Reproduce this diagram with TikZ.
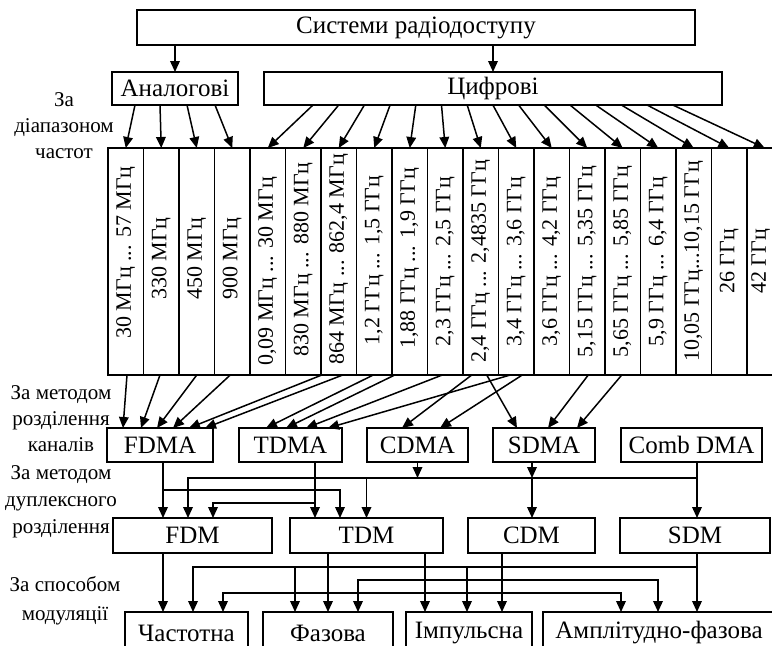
\documentclass[tikz,border=0pt]{standalone}
\usepackage{fontspec}
\setmainfont{Liberation Serif}
\usetikzlibrary{arrows.meta,calc}
\def\u{*0.5pt}
\newcommand\bandcol[4]{%
  \node[col] (b#1) at ({108+35.5*(#1-0.5)},261.5) {};
  \node[coltext] (t#1) at ($(b#1.center)+(#4,#3)$) {#2};}
\begin{document}
\begin{tikzpicture}[x=0.5pt,y=-0.5pt,
  every node/.style={inner sep=0pt, outer sep=0pt},
  box/.style={draw, line width=0.75pt, font=\fontsize{12.5}{14}\selectfont},
  col/.style={draw, line width=0.75pt, minimum width=35.5\u, minimum height=227\u},
  coltext/.style={rotate=90, font=\fontsize{11}{13}\selectfont},
  lbl/.style={align=center, font=\fontsize{10.5}{13}\selectfont},
  con/.style={line width=0.75pt},
  arr/.style={con, -{Triangle[length=5.5pt,width=4.8pt]}},
]
\fill[white] (0,0) rectangle (772,645);
\useasboundingbox (0,0) rectangle (772,645);

% top levels
\node[box, minimum width=558\u, minimum height=35\u] (top) at (416,27.5) {Системи радіодоступу};
\node[box, minimum width=126\u, minimum height=33\u] (an) at (175,88.5) {Аналогові};
\node[box, minimum width=458\u, minimum height=33\u] (dig) at (493,88.5) {Цифрові};
\draw[arr] (top.south -| an) -- (an.north);
\draw[arr] (top.south -| dig) -- (dig.north);

% band columns
\bandcol{1}{30 МГц ... 57 МГц}{-9}{0}
\bandcol{2}{330 МГц}{-3}{0}
\bandcol{3}{450 МГц}{-3}{0}
\bandcol{4}{900 МГц}{-3}{0}
\bandcol{5}{0,09 МГц ... 30 МГц}{10}{0}
\bandcol{6}{830 МГц ... 880 МГц}{-2}{0}
\bandcol{7}{864 МГц ... 862,4 МГц}{-2}{0}
\bandcol{8}{1,2 ГГц ... 1,5 ГГц}{-1}{0}
\bandcol{9}{1,88 ГГц ... 1,9 ГГц}{-3}{0}
\bandcol{10}{2,3 ГГц ... 2,5 ГГц}{0}{0}
\bandcol{11}{2,4 ГГц ... 2,4835 ГГц}{0}{0}
\bandcol{12}{3,4 ГГц ... 3,6 ГГц}{0}{0}
\bandcol{13}{3,6 ГГц ... 4,2 ГГц}{0}{0}
\bandcol{14}{5,15 ГГц ... 5,35 ГГц}{0}{0}
\bandcol{15}{5,65 ГГц ... 5,85 ГГц}{0}{0}
\bandcol{16}{5,9 ГГц ... 6,4 ГГц}{0}{0}
\bandcol{17}{10,05 ГГц...10,15 ГГц}{0}{0}
\bandcol{18}{26 ГГц}{0}{0}
\bandcol{19}{42 ГГц}{0}{-4}

\foreach \dx/\k in {23/1,48/2,75/3,103/4}
  \draw[arr] ($(an.south west)+(\dx,0)$) -- (b\k.north);
\foreach \k [evaluate=\k as \j using int(\k+4)] in {1,...,15}
  \draw[arr] ($(dig.south west)+({49+25.7*(\k-1)},0)$) -- (b\j.north);

% left labels
\node[lbl] (l1) at (64,126) {За\\діапазоном\\частот};
\node[lbl] (l2) at (61,419) {За методом\\розділення\\каналів};
\node[lbl, font=\fontsize{10.5}{13.5}\selectfont] (l3) at (61,502) {За методом\\дуплексного\\розділення};
\node[lbl, font=\fontsize{10.5}{14.5}\selectfont] (l4) at (65,601) {За способом\\модуляції};

% channel division
\node[box, minimum width=106\u, minimum height=34\u] (fdma) at (160,445) {FDMA};
\node[box, minimum width=103\u, minimum height=34\u] (tdma) at (290.5,445) {TDMA};
\node[box, minimum width=101\u, minimum height=34\u] (cdma) at (417.5,445) {CDMA};
\node[box, minimum width=102\u, minimum height=34\u] (sdma) at (544,445) {SDMA};
\node[box, minimum width=141\u, minimum height=34\u] (comb) at (691.5,445) {Comb DMA};

\foreach \k/\a/\n/\b in {1/1.25/fdma/16, 2/-1.25/fdma/34, 3/0/fdma/50, 4/-2/fdma/66,
    7/-17/fdma/82, 7/4/fdma/98, 8/-1/tdma/27, 9/-15/tdma/47, 10/-3/tdma/67,
    12/-6/tdma/89, 11/-9/cdma/35, 12/6/cdma/73, 11/6/sdma/24, 14/1/sdma/55, 15/-1/sdma/84}
  \draw[arr] ($(b\k.south)+(\a,0)$) -- ($(\n.north west)+(\b,0)$);

% duplex
\node[box, minimum width=159\u, minimum height=35\u] (fdm) at (192.5,535.5) {FDM};
\node[box, minimum width=153\u, minimum height=35\u] (tdm) at (366.5,535.5) {TDM};
\node[box, minimum width=127\u, minimum height=35\u] (cdm) at (531.5,535.5) {CDM};
\node[box, minimum width=150\u, minimum height=35\u] (sdm) at (695,535.5) {SDM};

\coordinate (f1) at ($(fdma.south west)+(56,0)$);
\draw[arr] (f1) -- (f1 |- fdm.north);
\draw[arr] (f1) ++(0,28) -| ($(tdm.north west)+(50,0)$);
\coordinate (t1) at ($(tdma.south west)+(76,0)$);
\draw[arr] (t1) -- (t1 |- tdm.north);
\draw[arr] (t1) ++(0,41) -| ($(fdm.north west)+(100,0)$);
\coordinate (c1) at ($(comb.south)+(5.5,0)$);
\coordinate (bus) at ($(c1)+(0,16)$);
\coordinate (s1) at ($(sdma.south west)+(39,0)$);
\draw[arr] (c1) -- (c1 |- sdm.north);
\draw[arr] (bus) -| ($(fdm.north west)+(75,0)$);
\draw[arr] (cdma.south) -- (cdma.south |- bus);
\draw[arr] (s1) -- (s1 |- bus);
\draw[arr] (s1 |- bus) -- (s1 |- cdm.north);
\draw[arr] (bus -| tdm.north) -- (tdm.north);

% modulation
\node[box, minimum width=123\u, minimum height=42\u] (ch) at (186.5,633) {Частотна};
\node[box, minimum width=130\u, minimum height=42\u] (ph) at (328,633) {Фазова};
\node[box, minimum width=126\u, minimum height=42\u] (im) at (469,633) {Імпульсна};
\node[box, minimum width=232\u, minimum height=42\u] (ap) at (659,633) {Амплітудно-фазова};

\coordinate (q1) at ($(fdm.south west)+(50,0)$);
\coordinate (q2) at ($(tdm.south west)+(38,0)$);
\coordinate (q3) at ($(tdm.south west)+(135,0)$);
\coordinate (q4) at ($(cdm.south west)+(34,0)$);
\coordinate (m) at ($(sdm.south)+(2,0)$);
\draw[arr] (q1) -- (q1 |- ch.north);
\draw[arr] (q2) -- (q2 |- ph.north);
\draw[arr] (q3) -- (q3 |- im.north);
\draw[arr] (q4) -- (q4 |- im.north);
\draw[arr] (m) -- (m |- ap.north);

\coordinate (e1) at ($(ph.north west)+(95,0)$);
\coordinate (e2) at ($(ap.north west)+(115,0)$);
\coordinate (e3) at ($(ch.north west)+(98,0)$);
\coordinate (e4) at ($(ap.north west)+(78,0)$);
\coordinate (e5) at ($(ch.north west)+(68,0)$);
\coordinate (d1) at ($(ph.north west)+(32,0)$);
\coordinate (d2) at ($(im.north west)+(61,0)$);

\coordinate (m1) at ($(m)+(0,14)$);
\coordinate (k1) at ($(q4)+(0,27)$);
\coordinate (k2) at ($(q3)+(0,40)$);
\draw[arr] (m1) -| (e5);
\draw[arr] (m1 -| d1) -- (d1);
\draw[arr] (m1 -| d2) -- (d2);
\draw[arr] (k1) -| (e1);
\draw[arr] (k1) -| (e2);
\draw[arr] (k2) -| (e3);
\draw[arr] (k2) -| (e4);
\end{tikzpicture}
\end{document}
